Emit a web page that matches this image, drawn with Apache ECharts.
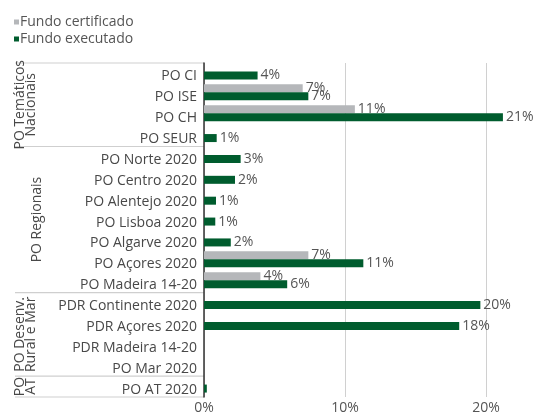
<!DOCTYPE html>
<html>
<head>
<meta charset="utf-8">
<script src="https://cdn.jsdelivr.net/npm/echarts@6/dist/echarts.min.js"></script>
<style>
    html, body { margin: 0; padding: 0; background: #fff; }
    #chart { width: 536px; height: 416px; }
</style>
</head>
<body>
<div id="chart"></div>
<script>
// categorias (de cima para baixo)
var categories = ['PO CI', 'PO ISE', 'PO CH', 'PO SEUR',
    'PO Norte 2020', 'PO Centro 2020', 'PO Alentejo 2020', 'PO Lisboa 2020',
    'PO Algarve 2020', 'PO Açores 2020', 'PO Madeira 14-20',
    'PDR Continente 2020', 'PDR Açores 2020', 'PDR Madeira 14-20', 'PO Mar 2020',
    'PO AT 2020']
// valores em %
var fundoCertificado = [null, 7.0, 10.7, null, null, null, null, null, null, 7.4, 4.0, null, null, null, null, null]
var fundoExecutado = [3.8, 7.4, 21.2, 0.9, 2.6, 2.2, 0.85, 0.8, 1.9, 11.3, 5.9, 19.6, 18.1, null, null, 0.2]
var xTicks = [0, 10, 20]
// agrupamentos (indice inicial e final)
var groupNames = [['PO Temáticos', 'Nacionais'], ['PO Regionais'], ['PO Desenv.', 'Rural e Mar'], ['PO', 'AT']]
var groupStart = [0, 4, 11, 15]
var groupEnd = [3, 10, 14, 15]

var FONT = 'Open Sans'
var GREEN = '#005c2e'
var GREY = '#b5b7ba'

var myChart = echarts.init(document.getElementById('chart'))

function pctLabel (p) {
    var v = Math.round(p.value)
    return v > 0 ? v + '%' : ''
}

var options = {
    animation: false,
    textStyle: { fontFamily: FONT },
    legend: {
        orient: 'vertical',
        left: 14,
        top: 15,
        itemWidth: 5,
        itemHeight: 5,
        itemGap: 3,
        padding: 0,
        icon: 'rect',
        data: ['Fundo certificado', 'Fundo executado'],
        textStyle: { fontFamily: FONT, fontSize: 14, color: '#555', padding: [0, 0, 0, -4] }
    },
    grid: {
        left: 204,
        width: 352.5, // eixo até 25%, o resto fica fora da imagem
        top: 63,
        bottom: 19,
        outerBoundsMode: 'none',
        containLabel: false
    },
    xAxis: {
        type: 'value',
        min: 0,
        max: 25,
        interval: 10,
        axisLine: { show: false },
        axisTick: { show: false },
        axisLabel: {
            fontFamily: FONT,
            fontSize: 14,
            color: '#555',
            margin: 4,
            formatter: function (v) { return xTicks.indexOf(v) >= 0 ? v + '%' : '' }
        },
        splitLine: { lineStyle: { color: '#d0d0d0', width: 1 } }
    },
    yAxis: {
        type: 'category',
        inverse: true,
        data: categories,
        axisTick: { show: false },
        axisLine: { lineStyle: { color: '#333', width: 1.5 } },
        axisLabel: {
            fontFamily: FONT,
            fontSize: 14,
            color: '#484848',
            margin: 7,
            verticalAlign: 'top',
            lineHeight: 6 // baixa o texto ~3px em relação ao centro da categoria
        }
    },
    series: [{
        name: 'Fundo certificado',
        type: 'bar',
        barWidth: 8,
        barGap: '0%',
        itemStyle: { color: GREY },
        label: {
            show: true,
            position: 'right',
            distance: 3,
            fontFamily: FONT,
            fontSize: 14,
            color: '#555',
            formatter: pctLabel
        },
        data: fundoCertificado
    }, {
        name: 'Fundo executado',
        type: 'bar',
        barWidth: 8,
        barGap: '0%',
        itemStyle: { color: GREEN },
        label: {
            show: true,
            position: 'right',
            distance: 3,
            fontFamily: FONT,
            fontSize: 14,
            color: '#555',
            formatter: pctLabel
        },
        data: fundoExecutado
    }, {
        // serie vazia so para deslocar as barras (verde centrada na categoria)
        name: 'espaco',
        type: 'bar',
        barWidth: 4,
        barGap: '0%',
        silent: true,
        data: []
    }]
}
myChart.setOption(options)

// linhas separadoras e nomes dos grupos, a partir das posicoes do eixo
var c0 = myChart.convertToPixel({ yAxisIndex: 0 }, categories[0])
var c1 = myChart.convertToPixel({ yAxisIndex: 0 }, categories[1])
var band = c1 - c0
var axisX = myChart.convertToPixel({ xAxisIndex: 0 }, 0)
var graphics = []
function sepLine (y) {
    return {
        type: 'line',
        shape: { x1: 15, y1: y, x2: axisX, y2: y },
        style: { stroke: '#cfcfcf', lineWidth: 1.2 },
        silent: true
    }
}
groupNames.forEach(function (name, i) {
    var top = myChart.convertToPixel({ yAxisIndex: 0 }, categories[groupStart[i]]) - band / 2
    var bottom = myChart.convertToPixel({ yAxisIndex: 0 }, categories[groupEnd[i]]) + band / 2
    if (i === 0) graphics.push(sepLine(top))
    graphics.push(sepLine(bottom))
    graphics.push({
        type: 'text',
        x: name.length === 1 ? 37 : 26,
        y: (top + bottom) / 2,
        rotation: Math.PI / 2,
        silent: true,
        style: {
            text: name.join('\n'),
            fontFamily: FONT,
            fontSize: 14,
            lineHeight: 11,
            fill: '#484848',
            align: 'center',
            verticalAlign: 'middle'
        }
    })
})
myChart.setOption({ graphic: graphics })
</script>
</body>
</html>
